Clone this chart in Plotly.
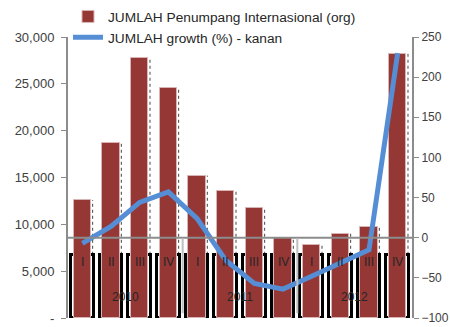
import plotly.graph_objects as go

quarters = ["I", "II", "III", "IV", "I", "II", "III", "IV", "I", "II", "III", "IV"]
years = ["2010", "2011", "2012"]
passengers = [12600, 18700, 27800, 24600, 15200, 13600, 11700, 8500, 7800, 9000, 9700, 28200]
growth = [-7, 14, 44, 57, 24, -28, -57, -64, -48, -32, -15, 230]
left_ticks = [0, 5000, 10000, 15000, 20000, 25000, 30000]
left_ticktext = ["-", "5,000", "10,000", "15,000", "20,000", "25,000", "30,000"]
right_ticks = [-100, -50, 0, 50, 100, 150, 200, 250]

BOX_TOP = 6750
FONT = "Liberation Sans"
idx = list(range(len(quarters)))

fig = go.Figure()

# category boxes behind bars
fig.add_trace(go.Bar(
    x=idx, y=[BOX_TOP] * len(idx), width=0.8,
    marker=dict(color="white", line=dict(color="black", width=3)),
    showlegend=False, hoverinfo="skip"))

fig.add_trace(go.Bar(
    x=idx, y=passengers, width=0.6,
    name="JUMLAH Penumpang Internasional (org)",
    marker=dict(color="#953735", line=dict(color="#d8b4b4", width=1))))

fig.add_trace(go.Scatter(
    x=idx, y=growth, yaxis="y2", mode="lines",
    name="JUMLAH growth (%) - kanan",
    line=dict(color="#558ed5", width=5)))

shapes = []
# dotted right edges of bars
for i, v in zip(idx, passengers):
    shapes.append(dict(type="line", xref="x", yref="y", x0=i + 0.36, x1=i + 0.36,
                       y0=BOX_TOP, y1=v, line=dict(color="#444", width=1, dash="dot"),
                       layer="below"))
# zero line of right axis
shapes.append(dict(type="line", xref="paper", yref="y2", x0=0, x1=1, y0=0, y1=0,
                   line=dict(color="#8c8c8c", width=2), layer="above"))
# year separators
for sx in [3.5, 7.5]:
    shapes.append(dict(type="line", xref="x", yref="y", x0=sx, x1=sx, y0=500, y1=8500,
                       line=dict(color="#bfbfbf", width=2), layer="above"))

annotations = []
for i, q in zip(idx, quarters):
    annotations.append(dict(x=i, y=6000, xref="x", yref="y", text=q, showarrow=False,
                            font=dict(family=FONT, size=12, color="#262626")))
for k, yr in enumerate(years):
    annotations.append(dict(x=4 * k + 1.5, y=2200, xref="x", yref="y", text=yr, showarrow=False,
                            font=dict(family=FONT, size=12, color="#262626")))

fig.update_layout(
    template="none",
    width=450, height=327,
    margin=dict(l=68, r=38, t=37, b=9, autoexpand=False),
    paper_bgcolor="white", plot_bgcolor="white",
    barmode="overlay", bargap=0,
    font=dict(family=FONT, size=13, color="#404040"),
    xaxis=dict(range=[-0.5, 11.5], showticklabels=False, showgrid=False, zeroline=False,
               showline=False, ticks="", automargin=False),
    yaxis=dict(range=[0, 30000], tickvals=left_ticks, ticktext=left_ticktext, automargin=False,
               showgrid=False, zeroline=False, showline=True, linecolor="#8c8c8c", linewidth=2,
               ticks="outside", ticklen=5, tickcolor="#8c8c8c", tickwidth=1, ticklabelstandoff=4,
               tickfont=dict(size=13, color="#404040")),
    yaxis2=dict(range=[-100, 250], tickvals=right_ticks, overlaying="y", side="right",
                automargin=False,
                showgrid=False, zeroline=False, showline=True, linecolor="#8c8c8c", linewidth=2,
                ticks="outside", ticklen=5, tickcolor="#8c8c8c", tickwidth=1, ticklabelstandoff=0,
                tickfont=dict(size=12, color="#404040")),
    legend=dict(x=0.0, y=1.128, xanchor="left", yanchor="top", bgcolor="rgba(0,0,0,0)",
                font=dict(size=13.7, color="#262626"), tracegroupgap=0),
    shapes=shapes, annotations=annotations,
)

fig.write_html("out.html")
